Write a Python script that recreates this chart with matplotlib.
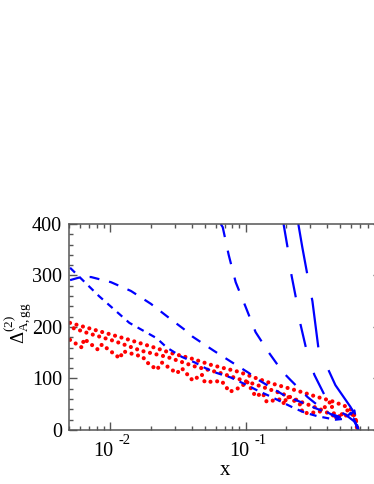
import numpy as np
import matplotlib
matplotlib.use("Agg")
import matplotlib.pyplot as plt
from matplotlib.ticker import MultipleLocator, LogLocator, NullFormatter

plt.rcParams['font.family'] = ['Liberation Serif', 'DejaVu Serif']
plt.rcParams['mathtext.fontset'] = 'custom'
plt.rcParams['mathtext.rm'] = 'Liberation Serif'
plt.rcParams['mathtext.it'] = 'Liberation Serif:italic'
plt.rcParams['lines.scale_dashes'] = False

# red dotted curves
red_a_x = [0.00508, 0.0083, 0.01311, 0.02071, 0.02856, 0.04076, 0.05623, 0.08882,
           0.1126, 0.1527, 0.2142, 0.2715, 0.3383, 0.4217, 0.5343, 0.6015, 0.6436, 0.666]
red_a_y = [208, 192, 177, 161, 149, 138, 126, 113, 103, 91, 80, 72, 64, 57, 47, 39, 25, 3]

red_b_x = [0.00508, 0.00689, 0.0107, 0.0169, 0.02625, 0.04146, 0.06438, 0.1017,
           0.1289, 0.1968, 0.2537, 0.3558, 0.4589, 0.5435, 0.6224, 0.6775]
red_b_y = [200, 188, 173, 154, 142, 124, 111, 94, 85, 68, 55, 40, 26, 28, 30, 8]

red_c_x = [0.00508, 0.00622, 0.00644, 0.00816, 0.00873, 0.01184, 0.01246, 0.01748,
           0.0184, 0.02216, 0.02412, 0.03109, 0.03383, 0.04076, 0.04748, 0.04994,
           0.0666, 0.07627, 0.09346, 0.1017, 0.1184, 0.1334, 0.1427, 0.184, 0.1935,
           0.2002, 0.2537, 0.2625, 0.3005, 0.3558, 0.4217, 0.4589, 0.5623, 0.6224, 0.666]
red_c_y = [175, 160, 177, 156, 166, 139, 153, 142, 133, 117, 131, 110, 120, 96, 108, 93,
           95, 74, 84, 95, 65, 72, 55, 60, 49, 66, 49, 33, 33, 36, 55, 22, 38, 29, 2]

# blue dashed curves
blue_d_x = [0.00508, 0.00612, 0.00725, 0.01017, 0.01427, 0.02002, 0.02809, 0.035,
            0.04076, 0.05815, 0.07755, 0.1052, 0.1246, 0.1903, 0.267, 0.3745, 0.4995,
            0.5917, 0.633, 0.6549, 0.6775]
blue_d_y = [291, 297, 297, 287, 270, 245, 215, 196, 181, 154, 133, 111, 97, 68, 52, 36,
            25, 30, 38, 15, 0]

blue_e_x = [0.00508, 0.0083, 0.0139, 0.02216, 0.02625, 0.03383, 0.04227, 0.05066,
            0.06079, 0.07755, 0.1007, 0.1237, 0.1527, 0.2296, 0.2715, 0.3351, 0.4589,
            0.5435, 0.5917, 0.666]
blue_e_y = [315, 260, 208, 178, 160, 142, 131, 120, 111, 102, 88, 76, 65, 42, 34, 27,
            20, 22, 33, 5]

blue_f_x = [0.06549, 0.06775, 0.07499, 0.08444, 0.1, 0.1184, 0.1476, 0.1871, 0.2142,
            0.2857, 0.3745, 0.4748, 0.6224, 0.6775]
blue_f_y = [400, 394, 340, 287, 239, 190, 151, 113, 97, 64, 39, 23, 23, 0]

blue_g1_x = [0.1903, 0.2035, 0.2179, 0.2373, 0.2537, 0.2808, 0.3211, 0.3859, 0.4589,
             0.5435, 0.6436, 0.6775]
blue_g1_y = [400, 355, 300, 250, 205, 155, 107, 65, 40, 30, 15, 0]

blue_g2_x = [0.2445, 0.2615, 0.2857, 0.3106, 0.3438, 0.4589, 0.5917, 0.6549, 0.6775]
blue_g2_y = [400, 355, 300, 250, 159, 87, 45, 25, 0]

xtick_vals = [0.01, 0.1]
xtick_exps = ['-2', '-1']

fig = plt.figure(figsize=(3.74, 4.84), dpi=100)
ax = fig.add_axes([0.1848, 0.1116, 0.8348, 0.4256])

red_kw = dict(color='#ff0000', lw=3.0, dash_capstyle='round')
ax.plot(red_a_x, red_a_y, linestyle=(0, (0.01, 4.8)), **red_kw)
ax.plot(red_b_x, red_b_y, linestyle=(2, (0.01, 4.8)), **red_kw)
ax.plot(red_c_x, red_c_y, linestyle=(0, (0.01, 4.8)), **red_kw)

blue_kw = dict(color='#0000ff', lw=1.6)
ax.plot(blue_d_x, blue_d_y, linestyle=(0, (7.2, 7.2)), **blue_kw)
ax.plot(blue_e_x, blue_e_y, linestyle=(0, (5.0, 4.3)), **blue_kw)
ax.plot(blue_f_x, blue_f_y, linestyle=(0, (10, 10)), **blue_kw)
ax.plot(blue_g1_x, blue_g1_y, linestyle=(0, (17, 19.5)), **blue_kw)
ax.plot(blue_g2_x, blue_g2_y, linestyle=(0, (36, 18)), **blue_kw)

ax.set_xscale('log')
ax.set_xlim(0.005, 1.0)
ax.set_ylim(0, 400)
ax.yaxis.set_major_locator(MultipleLocator(100))
ax.yaxis.set_minor_locator(MultipleLocator(20))
ax.set_xticks(xtick_vals)
ax.xaxis.set_minor_locator(LogLocator(base=10, subs=np.arange(2, 10)))
ax.xaxis.set_major_formatter(NullFormatter())
ax.xaxis.set_minor_formatter(NullFormatter())

for s in ax.spines.values():
    s.set_color('#555555')
    s.set_linewidth(1.1)
ax.tick_params(which='both', direction='in', top=True, right=True, color='#555555',
               width=1.0)
ax.tick_params(axis='y', labelsize=14.5, pad=5)
ax.tick_params(which='major', length=6)
ax.tick_params(which='minor', length=3)

# x tick labels: "10" with a raised exponent, as in the original
for v, e in zip(xtick_vals, xtick_exps):
    ax.annotate('10', xy=(v, 0), xycoords=('data', 'axes fraction'),
                xytext=(-4.7, -15.5), textcoords='offset points',
                ha='center', va='center', fontsize=14.5)
    ax.annotate(e, xy=(v, 0), xycoords=('data', 'axes fraction'),
                xytext=(10.8, -7.6), textcoords='offset points',
                ha='center', va='center', fontsize=10.5)

ax.set_xlabel('x', fontsize=15)
ax.set_ylabel(r'$\Delta^{(2)}_{\rm A,gg}$', fontsize=13.5)
ax.xaxis.set_label_coords(0.50, -0.15)
ax.yaxis.set_label_coords(-0.114, 0.52)

fig.savefig('out.png', dpi=100)
